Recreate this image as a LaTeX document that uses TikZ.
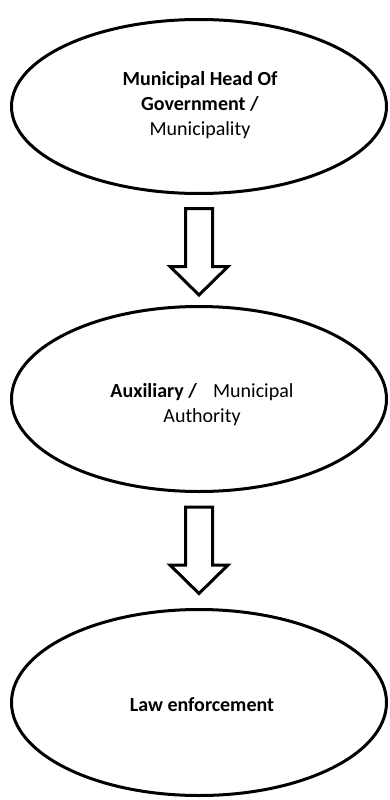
\documentclass[tikz,border=0pt]{standalone}
\usepackage{fontspec}
\setmainfont{Carlito}
\usetikzlibrary{shapes.geometric,calc}

\tikzset{
  oval/.style={ellipse, draw=black, line width=3pt, inner sep=0pt},
  txt/.style={align=center, text=black, font=\fontsize{20}{25}\selectfont},
  blockarrow/.pic={
    \draw[line width=3pt, line join=miter, fill=white]
      (-13.5,0) -- (-13.5,-58) -- (-29,-58) -- (0,-86.5)
      -- (29,-58) -- (13.5,-58) -- (13.5,0) -- cycle;
  }
}

\begin{document}
\begin{tikzpicture}[x=1pt, y=1pt]
  \useasboundingbox (0,0) rectangle (389,-800);

  % three stages, top to bottom
  \node[oval, minimum width=375pt, minimum height=174pt] (e1) at (199,-106.5) {};
  \node[oval, minimum width=375pt, minimum height=185pt] (e2) at (199,-399) {};
  \node[oval, minimum width=375pt, minimum height=186pt] (e3) at (199,-702.5) {};

  \node[txt] (t1) at ($(e1.center)+(1,1)$)
    {\textbf{Municipal Head Of}\\ \textbf{Government /}\\ Municipality};
  \node[txt] (t2) at ($(e2.center)+(3,-5.5)$)
    {\textbf{Auxiliary /}\hspace{16pt}Municipal\\ Authority};
  \node[txt] (t3) at ($(e3.center)+(3,-2)$) {\textbf{Law enforcement}};

  % hollow block arrows between the stages
  \coordinate (a1) at ($(e1.south)+(0,-13.5)$);
  \coordinate (a2) at ($(e2.south)+(0,-14)$);
  \pic at (a1) {blockarrow};
  \pic at (a2) {blockarrow};
\end{tikzpicture}
\end{document}
